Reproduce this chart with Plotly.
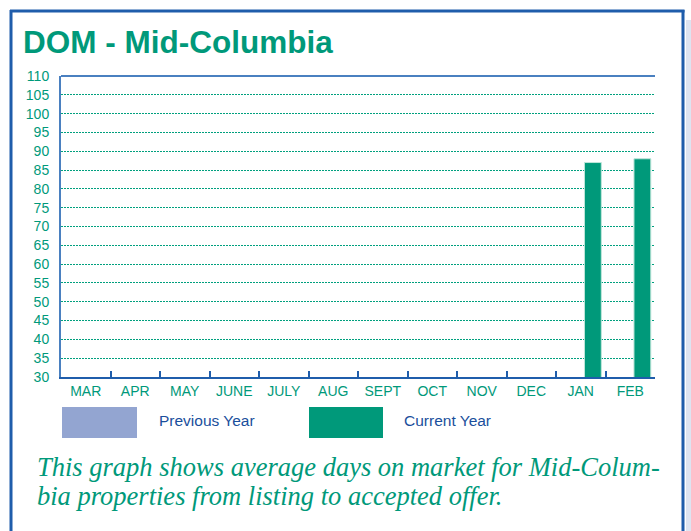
import plotly.graph_objects as go

months = ["MAR", "APR", "MAY", "JUNE", "JULY", "AUG", "SEPT", "OCT", "NOV", "DEC", "JAN", "FEB"]
previous_year = [None] * 12
current_year = [None, None, None, None, None, None, None, None, None, None, 87, 88]
y_ticks = list(range(30, 111, 5))

title_text = "DOM - Mid-Columbia"
caption_lines = ["This graph shows average days on market for Mid-Colum-",
                 "bia properties from listing to accepted offer."]

TEAL = "#00997a"
BLUE = "#1f5dab"
PREV = "#93a5d1"

W, H = 691, 531
L, R, T, B = 61, 655, 76, 377


def px(x):
    return (x - L) / (R - L)


def py(y):
    return (B - y) / (B - T)


fig = go.Figure()
fig.add_trace(go.Bar(x=months, y=previous_year, name="Previous Year",
                     marker=dict(color=PREV), width=0.34, offset=-0.415,
                     showlegend=False))
fig.add_trace(go.Bar(x=months, y=current_year, name="Current Year",
                     marker=dict(color=TEAL, line=dict(color="#bfe6da", width=1)),
                     width=0.34, offset=0.075, showlegend=False))

shapes = []
# plot top border
shapes.append(dict(type="line", xref="paper", yref="paper", x0=0, x1=1, y0=1, y1=1,
                   line=dict(color="#4a80c0", width=2)))
# outer frame
shapes.append(dict(type="line", xref="paper", yref="paper", x0=px(11), x1=px(11), y0=py(10), y1=py(540),
                   line=dict(color=BLUE, width=3)))
shapes.append(dict(type="line", xref="paper", yref="paper", x0=px(10), x1=px(684.5), y0=py(11), y1=py(11),
                   line=dict(color=BLUE, width=3)))
shapes.append(dict(type="line", xref="paper", yref="paper", x0=px(683), x1=px(683), y0=py(10), y1=py(540),
                   line=dict(color=BLUE, width=3)))
shapes.append(dict(type="rect", xref="paper", yref="paper", x0=px(686), x1=px(695), y0=py(20), y1=py(540),
                   fillcolor="#dde4f1", line=dict(width=0)))
# legend swatches
shapes.append(dict(type="rect", xref="paper", yref="paper", x0=px(62), x1=px(137), y0=py(407), y1=py(438),
                   fillcolor=PREV, line=dict(width=0)))
shapes.append(dict(type="rect", xref="paper", yref="paper", x0=px(309), x1=px(383), y0=py(407), y1=py(438),
                   fillcolor=TEAL, line=dict(width=0)))

annotations = [
    dict(text="<b>" + title_text + "</b>", xref="paper", yref="paper", x=px(21), y=py(42),
         xanchor="left", yanchor="middle", showarrow=False,
         font=dict(family="Liberation Sans, Arial", size=31.5, color=TEAL)),
    dict(text="Previous Year", xref="paper", yref="paper", x=px(157), y=py(420),
         xanchor="left", yanchor="middle", showarrow=False,
         font=dict(family="Liberation Sans, Arial", size=15.5, color="#1a4f9c")),
    dict(text="Current Year", xref="paper", yref="paper", x=px(402), y=py(420),
         xanchor="left", yanchor="middle", showarrow=False,
         font=dict(family="Liberation Sans, Arial", size=15.5, color="#1a4f9c")),
]
for i, line in enumerate(caption_lines):
    annotations.append(dict(text="<i>" + line + "</i>", xref="paper", yref="paper",
                            x=px(35), y=py(467 + 29 * i), xanchor="left", yanchor="middle",
                            showarrow=False,
                            font=dict(family="Liberation Serif, Times New Roman", size=26.5, color=TEAL)))

fig.update_layout(
    width=W, height=H,
    margin=dict(l=L, r=W - R, t=T, b=H - B),
    paper_bgcolor="white", plot_bgcolor="white",
    barmode="overlay",
    shapes=shapes, annotations=annotations,
    font=dict(family="Liberation Sans, Arial", color=TEAL),
    xaxis=dict(type="category", categoryorder="array", categoryarray=months,
               showline=True, linecolor=BLUE, linewidth=2,
               ticks="inside", tickson="boundaries", ticklen=6, tickwidth=2, tickcolor=BLUE,
               showgrid=False, tickfont=dict(size=14, color=TEAL), range=[-0.5, 11.5]),
    yaxis=dict(range=[30, 110], tickvals=y_ticks, showline=True, linecolor="#4a80c0", linewidth=2,
               showgrid=True, gridcolor="#00a07e", griddash="2px,1px", gridwidth=1,
               ticks="", ticklabelstandoff=7, zeroline=False,
               tickfont=dict(size=14, color=TEAL)),
)

fig.write_html("out.html")
